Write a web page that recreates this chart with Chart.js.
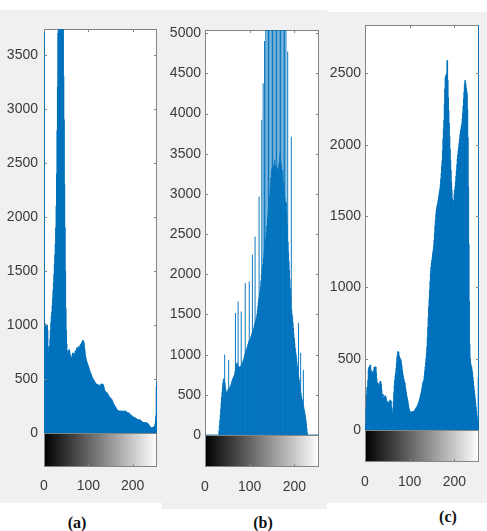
<!DOCTYPE html>
<html><head><meta charset="utf-8">
<script src="https://cdn.jsdelivr.net/npm/chart.js@4.4.0/dist/chart.umd.min.js"></script>
<style>
html,body{margin:0;padding:0;background:#fff;width:487px;height:531px;overflow:hidden;position:relative;}
.panel{position:absolute;background:#f0f0f0;}
.panel canvas{display:block;}
.cap{position:absolute;font-family:"Liberation Serif","Times New Roman",serif;font-weight:bold;font-size:16px;color:#111;transform:translate(-50%,-50%);white-space:nowrap;}
</style></head><body>
<div class="panel" style="left:0;top:10px;width:162px;height:493px"><canvas id="ca" width="162" height="493"></canvas></div>
<div class="panel" style="left:162px;top:10px;width:165px;height:499px"><canvas id="cb" width="165" height="499"></canvas></div>
<div class="panel" style="left:327px;top:12px;width:160px;height:491px"><canvas id="cc" width="160" height="491"></canvas></div>
<div class="cap" style="left:77px;top:523px">(a)</div>
<div class="cap" style="left:263px;top:523px">(b)</div>
<div class="cap" style="left:448px;top:517px">(c)</div>
<script>
// ---- data ----
const levels = Array.from({length: 256}, (_, i) => i);
const xTicks = [0, 100, 200];
const yTicksA = [0, 500, 1000, 1500, 2000, 2500, 3000, 3500];
const yTicksB = [0, 500, 1000, 1500, 2000, 2500, 3000, 3500, 4000, 4500, 5000];
const yTicksC = [0, 500, 1000, 1500, 2000, 2500];

const histA = [6000,1000,1010,990,1000,1000,980,1000,950,800,
740,720,750,800,870,950,1020,1080,1120,1180,
1250,1320,1390,1470,1560,1650,1750,1900,2100,2400,
2800,3200,3700,4200,4600,5000,5200,5300,5200,5000,
4700,4300,4100,3800,3300,2900,2300,1900,1500,1150,
950,820,760,720,700,730,760,770,740,720,
700,690,690,700,720,740,730,720,710,720,
740,760,750,760,780,790,780,770,790,800,
780,790,810,820,800,830,840,850,855,850,
830,790,760,720,700,680,660,650,640,625,
614,600,590,575,560,550,545,530,520,510,
500,495,490,480,470,470,460,455,450,440,
450,445,440,445,440,430,420,430,440,450,
450,455,450,445,440,420,400,390,385,380,
375,372,370,360,355,350,340,335,330,325,
320,315,310,305,295,285,275,265,260,250,
245,240,232,225,218,213,210,205,203,200,
198,202,205,200,195,198,205,200,198,200,
197,195,200,205,200,195,190,188,186,185,
185,185,180,175,170,165,162,160,158,155,
150,148,145,142,140,139,139,135,130,128,
125,122,122,120,120,118,120,120,115,110,
105,102,100,98,97,95,95,94,93,93,
92,93,93,90,85,80,75,70,65,55,
50,48,46,46,45,47,50,52,55,58,
60,80,110,160,430,470];

const histB = [0,0,0,0,0,0,0,0,0,0,
0,0,0,0,0,0,0,0,0,0,
0,0,0,0,0,0,0,0,0,0,
0,50,120,180,250,320,400,470,540,600,
650,690,700,680,1000,650,600,560,530,520,
540,560,580,930,580,590,600,610,630,650,
670,690,700,710,725,740,760,790,1515,840,
870,895,900,880,1660,860,850,845,850,850,
860,1535,880,900,910,925,935,960,990,1010,
1890,1040,1060,1070,1090,1110,1130,1150,1170,1907,
1180,1190,1210,1230,1250,1270,2240,1300,1310,1330,
1360,1390,2467,1420,1440,1460,1500,1550,1600,1650,
1700,2965,1760,1800,1850,1920,2000,3920,2080,2120,
4375,2200,2280,4900,2400,2450,5500,2520,2600,5500,
2700,2780,5500,2900,2980,5500,3100,3200,5500,3300,
3320,5500,3330,3350,5500,3380,3420,5500,3350,3330,
5500,3320,3300,5500,3330,3380,5500,3450,3510,5500,
3400,3350,5500,3300,3250,5500,3150,3050,5500,2950,
2900,5500,2890,2750,2620,4770,2400,2280,2160,2050,
1940,1830,1720,3710,1560,1500,1470,1400,1330,1260,
1200,1140,1080,1040,1000,960,900,850,800,1390,
720,684,640,600,1020,520,480,450,435,400,
808,350,320,290,260,228,190,140,80,30,
0,0,0,0,0,0,0,0,0,0,
0,0,0,0,0,0,0,0,0,0,
0,0,0,0,0,0];

const histC = [0,0,50,150,250,300,280,350,420,440,
430,450,455,420,380,400,410,400,350,390,
420,440,430,443,440,400,360,330,320,328,
300,260,290,320,340,338,320,280,240,233,
250,220,190,200,230,240,233,220,200,180,
190,200,189,170,160,190,210,200,203,160,
120,110,119,150,200,260,310,350,380,399,
430,470,510,530,550,545,520,510,500,495,
490,470,450,420,399,380,360,350,335,329,
300,280,260,240,225,210,190,170,150,140,
132,128,125,122,120,125,128,130,128,126,
128,135,140,145,150,155,160,163,170,180,
190,200,210,220,233,248,262,278,295,312,
330,340,350,380,410,440,470,500,540,583,
650,720,790,863,920,980,1040,1100,1140,1170,
1190,1210,1240,1260,1290,1330,1380,1430,1470,1510,
1540,1560,1575,1590,1610,1630,1650,1670,1690,1720,
1760,1800,1850,1890,1960,2040,2110,2170,2280,2390,
2470,2480,2490,2500,2590,2450,2330,2240,2150,2060,
1970,1890,1820,1740,1680,1620,1580,1563,1580,1610,
1650,1680,1703,1740,1780,1820,1860,1900,1930,1960,
1983,2010,2040,2070,2090,2110,2130,2147,2180,2220,
2270,2320,2370,2420,2450,2430,2400,2380,2357,2250,
2050,1700,1300,900,600,500,470,450,443,420,
400,370,340,310,280,250,220,190,160,130,
100,70,50,30,370,4000];

const yMaxA = 3740, yMaxB = 5040, yMaxC = 2840;

// ---- drawing ----
const TICK_FONT = {family: '"Liberation Sans Narrow","Arial Narrow","Liberation Sans",Arial,sans-serif', size: 14};
const AXIS_COLOR = '#858585';
const BAR_COLOR = '#0072BD';

const matlabAxes = {
  id: 'matlabAxes',
  beforeDatasetsDraw(chart) {
    const {ctx, chartArea: a} = chart;
    ctx.save();
    ctx.fillStyle = '#ffffff';
    ctx.fillRect(a.left, a.top, a.right - a.left, a.bottom - a.top);
    ctx.strokeStyle = AXIS_COLOR; ctx.lineWidth = 1;
    ctx.strokeRect(a.left + 0.5, a.top + 0.5, a.right - a.left - 1, a.bottom - a.top);
    ctx.restore();
  },
  afterDatasetsDraw(chart, args, opts) {
    const {ctx, chartArea: a, scales: {x, y}} = chart;
    const sh = opts.strip;
    ctx.save();
    const g = ctx.createLinearGradient(a.left, 0, a.right, 0);
    g.addColorStop(0, '#000000'); g.addColorStop(1, '#ffffff');
    ctx.fillStyle = g;
    ctx.fillRect(a.left, a.bottom, a.right - a.left, sh);
    ctx.strokeStyle = AXIS_COLOR; ctx.lineWidth = 1;
    ctx.strokeRect(a.left + 0.5, a.bottom + 0.5, a.right - a.left - 1, sh - 1);
    ctx.beginPath();
    y.ticks.forEach(t => {
      const py = Math.round(y.getPixelForValue(t.value)) + 0.5;
      ctx.moveTo(a.left, py); ctx.lineTo(a.left + 3, py);
      ctx.moveTo(a.right, py); ctx.lineTo(a.right - 3, py);
    });
    x.ticks.forEach(t => {
      const px = Math.round(x.getPixelForValue(t.value)) + 0.5;
      ctx.moveTo(px, a.top); ctx.lineTo(px, a.top + 3);
      ctx.moveTo(px, a.bottom + sh); ctx.lineTo(px, a.bottom + sh - 3);
    });
    ctx.stroke();
    ctx.restore();
  }
};

function makeChart(id, values, yMax, yTicks, lay) {
  new Chart(document.getElementById(id), {
    type: 'bar',
    data: {
      datasets: [{
        data: levels.map((l, i) => ({x: l, y: values[i]})),
        backgroundColor: BAR_COLOR,
        borderWidth: 0,
        barThickness: lay.bw,
        inflateAmount: lay.inf,
        clip: 0
      }]
    },
    options: {
      responsive: false,
      animation: false,
      events: [],
      layout: {padding: {left: 0, top: lay.top, right: lay.right, bottom: 0}},
      plugins: {legend: {display: false}, tooltip: {enabled: false},
                matlabAxes: {strip: lay.strip}},
      scales: {
        x: {
          type: 'linear', min: 0, max: 255, offset: false,
          grid: {display: true, drawOnChartArea: false, drawTicks: true,
                 tickLength: lay.xtl, color: 'rgba(0,0,0,0)'},
          border: {display: false},
          afterBuildTicks: s => { s.ticks = xTicks.map(v => ({value: v})); },
          afterFit: s => { s.height = lay.xh; },
          ticks: {font: TICK_FONT, color: '#3a3a3a', padding: 0, maxRotation: 0,
                  autoSkip: false, callback: v => String(v)}
        },
        y: {
          min: 0, max: yMax,
          grid: {display: false, drawTicks: false},
          border: {display: false},
          afterBuildTicks: s => { s.ticks = yTicks.map(v => ({value: v})); },
          afterFit: s => { s.width = lay.yw; },
          ticks: {font: TICK_FONT, color: '#3a3a3a', padding: lay.ypad,
                  autoSkip: false, callback: v => String(v)}
        }
      }
    },
    plugins: [matlabAxes]
  });
}

makeChart('ca', histA, yMaxA, yTicksA, {top: 19, right: 5, yw: 44, xh: 70, strip: 34, xtl: 45, ypad: 6, bw: 1.0, inf: 'auto'});
makeChart('cb', histB, yMaxB, yTicksB, {top: 20, right: 8, yw: 43, xh: 74, strip: 32, xtl: 44, ypad: 4, bw: 0.55, inf: 0.2});
makeChart('cc', histC, yMaxC, yTicksC, {top: 13, right: 8, yw: 38, xh: 73, strip: 32, xtl: 44, ypad: 4, bw: 1.0, inf: 'auto'});
</script>
</body></html>
